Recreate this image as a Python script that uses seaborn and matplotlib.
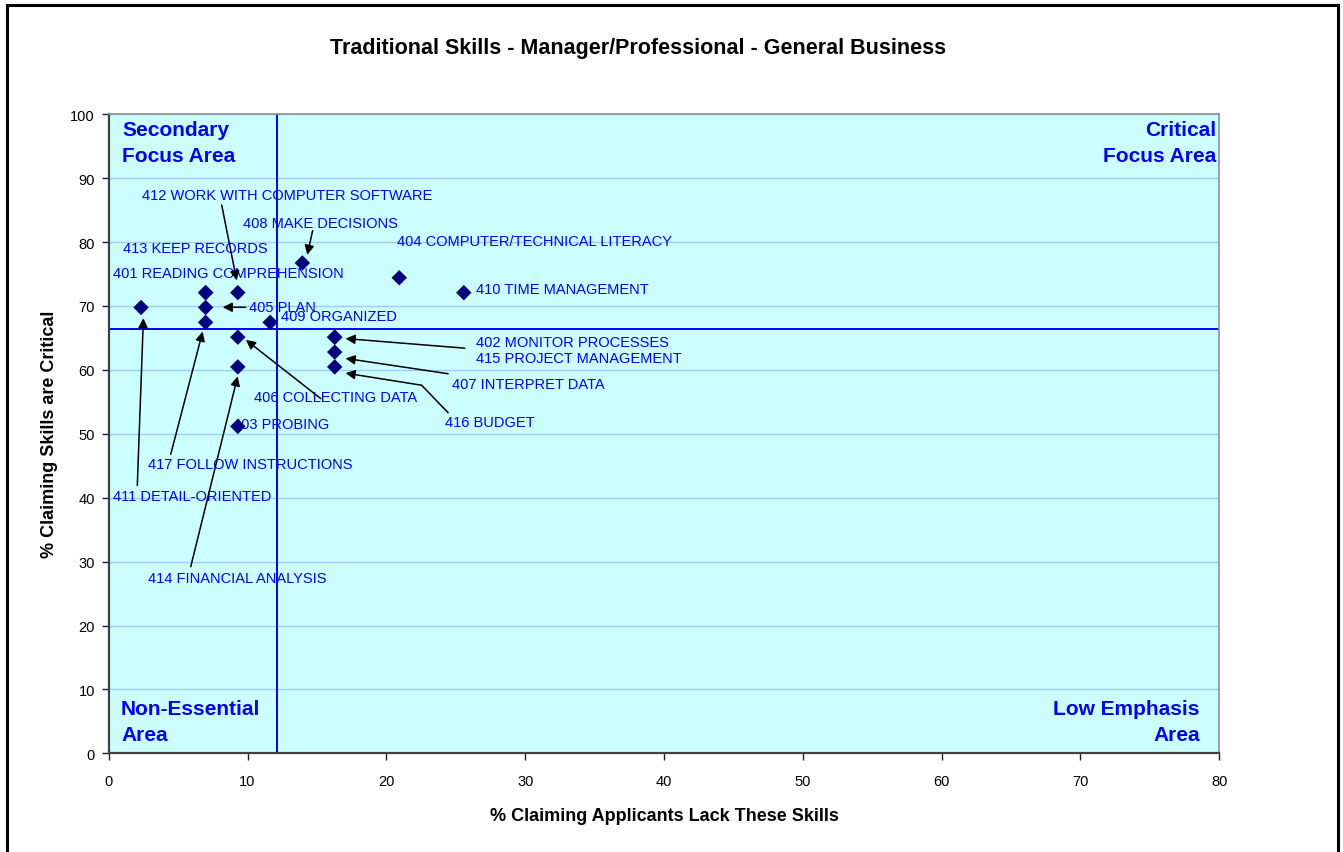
import pandas as pd
import seaborn as sns
import matplotlib.pyplot as plt
from matplotlib.patches import Rectangle

#%% data
skills = ["401 READING COMPREHENSION", "402 MONITOR PROCESSES", "403 PROBING",
          "404 COMPUTER/TECHNICAL LITERACY", "405 PLAN", "406 COLLECTING DATA",
          "407 INTERPRET DATA", "408 MAKE DECISIONS", "409 ORGANIZED",
          "410 TIME MANAGEMENT", "411 DETAIL-ORIENTED", "412 WORK WITH COMPUTER SOFTWARE",
          "413 KEEP RECORDS", "414 FINANCIAL ANALYSIS", "415 PROJECT MANAGEMENT",
          "416 BUDGET", "417 FOLLOW INSTRUCTIONS"]
lack = [6.98, 16.28, 9.30, 20.93, 6.98, 9.30, 16.28, 13.95, 11.63,
        25.58, 2.33, 9.30, 6.98, 9.30, 16.28, 16.28, 6.98]
critical = [72.09, 65.12, 51.16, 74.42, 69.77, 65.12, 62.79, 76.74, 67.44,
            72.09, 69.77, 72.09, 72.09, 60.47, 65.12, 60.47, 67.44]
x_split = 12.1
y_split = 66.4
x_ticks = list(range(0, 81, 10))
y_ticks = list(range(0, 101, 10))

title = "Traditional Skills - Manager/Professional - General Business"
x_title = "% Claiming Applicants Lack These Skills"
y_title = "% Claiming Skills are Critical"

#%% layout of the labels (left edge, middle) and arrows (tail -> head)
label_pos = [(0.29, 75.1), (26.48, 64.3), (8.93, 51.6), (20.74, 80.1), (10.13, 69.8),
             (10.48, 55.8), (24.74, 57.75), (9.65, 83.0), (12.41, 68.4), (26.48, 72.7),
             (0.29, 40.2), (2.38, 87.3), (1.06, 79.1), (2.81, 27.5), (26.48, 61.8),
             (24.26, 51.8), (2.81, 45.25)]
arrows = [((2.06, 41.9), (2.50, 68.1)),
          ((4.47, 46.8), (6.77, 66.0)),
          ((5.91, 29.2), (9.29, 59.0)),
          ((8.14, 85.8), (9.22, 74.0)),
          ((14.69, 81.8), (14.30, 78.0)),
          ((9.86, 69.8), (8.21, 69.8)),
          ((15.28, 55.5), (9.88, 64.7)),
          ((25.65, 63.4), (17.06, 64.9)),
          ((24.45, 59.4), (17.06, 61.8)),
          ((22.54, 57.6), (17.06, 59.5))]
bend_416 = ([24.45, 22.54], [53.3, 57.6])

df = pd.DataFrame({"skill": skills, "lack": lack, "critical": critical})

sns.set_theme(style="ticks")
plt.rcParams['font.family'] = ['Liberation Sans', 'DejaVu Sans']

fig = plt.figure(figsize=(13.43, 8.53), dpi=100)
ax = fig.add_axes([108.7 / 1343, 1 - 754.3 / 853, 1110.6 / 1343, 639 / 853])
ax.set_facecolor("#CCFFFF")

sns.scatterplot(data=df, x="lack", y="critical", marker="D", s=62, color="#000080",
                edgecolor="none", linewidth=0, ax=ax, zorder=4, legend=False)

ax.axvline(x_split, color="#0000FF", lw=1.4, zorder=2)
ax.axhline(y_split, color="#0000FF", lw=1.4, zorder=2)

blue = "#0000FF"
for name, (tx, ty) in zip(skills, label_pos):
    ax.text(tx, ty, name, color=blue, fontsize=10.5, ha="left", va="center", zorder=3)

arrow_style = dict(arrowstyle="-|>", color="black", lw=1.1, mutation_scale=14,
                   shrinkA=0, shrinkB=0)
for tail, head in arrows:
    ax.annotate("", xy=head, xytext=tail, arrowprops=arrow_style, zorder=5)
ax.plot(bend_416[0], bend_416[1], color="black", lw=1.1, zorder=5)

# quadrant names
qkw = dict(color=blue, fontsize=15, fontweight="bold", va="center", linespacing=1.45)
ax.text(0.96, 95.6, "Secondary\nFocus Area", ha="left", **qkw)
ax.text(79.77, 95.6, "Critical\nFocus Area", ha="right", multialignment="right", **qkw)
ax.text(0.89, 5.0, "Non-Essential\nArea", ha="left", **qkw)
ax.text(78.6, 5.0, "Low Emphasis\nArea", ha="right", multialignment="right", **qkw)

ax.set_xlim(0, 80)
ax.set_ylim(0, 100)
ax.set_xticks(x_ticks)
ax.set_yticks(y_ticks)
ax.yaxis.grid(True, color="#99CCFF", lw=1)
ax.xaxis.grid(False)
ax.set_axisbelow(True)
ax.tick_params(axis="both", direction="out", length=5, width=1, colors="#202020",
               labelsize=10.5, labelcolor="black")
ax.tick_params(axis="x", pad=10)
ax.tick_params(axis="y", pad=5)
for side in ["left", "bottom"]:
    ax.spines[side].set_color("#404040")
    ax.spines[side].set_linewidth(1.6)
for side in ["top", "right"]:
    ax.spines[side].set_visible(True)
    ax.spines[side].set_color("#909090")
    ax.spines[side].set_linewidth(1.2)

ax.set_xlabel(x_title, fontsize=13, fontweight="bold", color="black")
ax.set_ylabel(y_title, fontsize=13, fontweight="bold", color="black")
ax.xaxis.set_label_coords(0.5, -0.084)
ax.yaxis.set_label_coords(-0.0454, 0.5)

fig.text(638 / 1343, 1 - 48.5 / 853, title, ha="center", va="center",
         fontsize=15.5, fontweight="bold", color="black")

# outer chart border
fig.patches.append(Rectangle((6.7 / 1343, -0.1), (1338.3 - 6.7) / 1343, 1.1 - 5.5 / 853,
                             transform=fig.transFigure, fill=False, edgecolor="black",
                             lw=2.2, zorder=10))

fig.savefig("out.png", dpi=100)
plt.close()
